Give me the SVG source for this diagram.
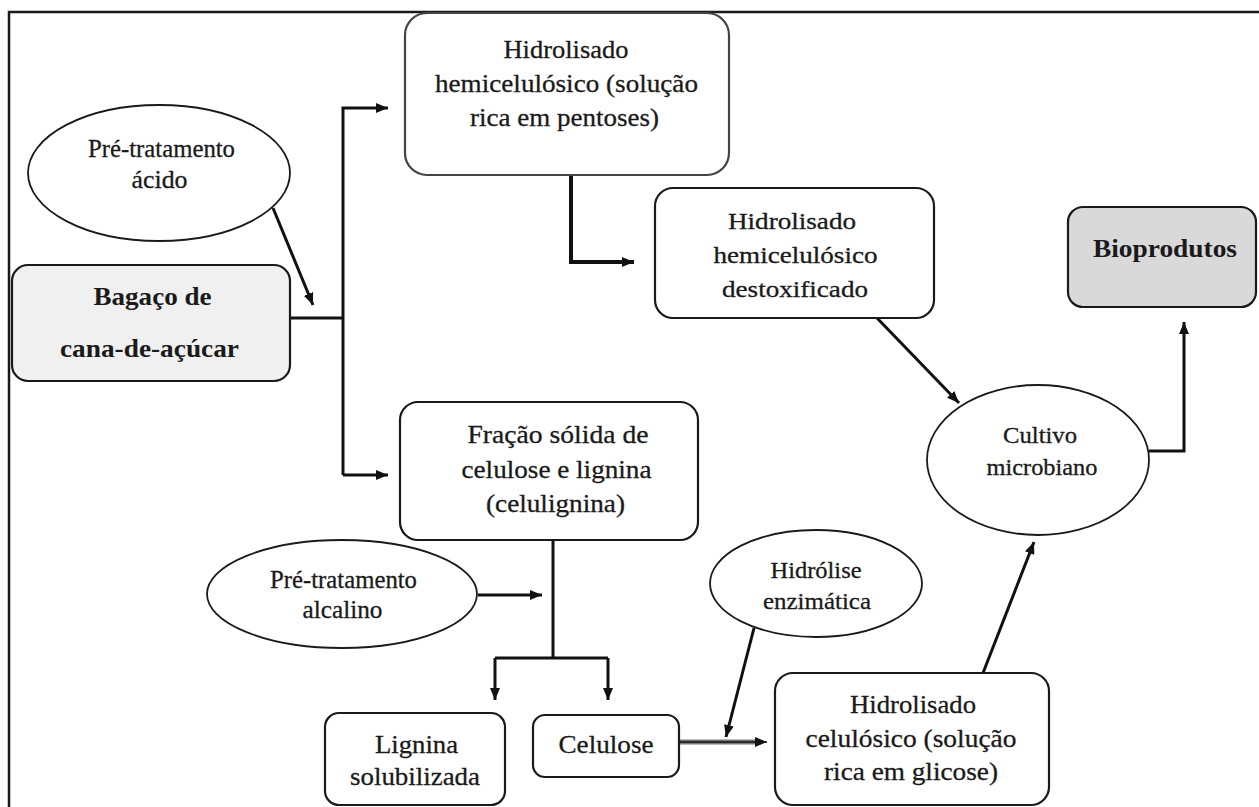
<svg xmlns="http://www.w3.org/2000/svg" width="1259" height="807" viewBox="0 0 1259 807">
<style>
.box{fill:#fff;stroke:#1a1a1a;stroke-width:2.2}
.ell{fill:#fff;stroke:#1a1a1a;stroke-width:1.8}
.t{font-family:"Liberation Serif","Times New Roman",serif;font-size:25px;fill:#1a1a1a;stroke:#1a1a1a;stroke-width:0.3;text-anchor:middle}
.tb{font-family:"Liberation Serif","Times New Roman",serif;font-size:26px;font-weight:bold;fill:#1a1a1a;text-anchor:middle}
.c{fill:none;stroke:#111;stroke-width:3}
</style>
<defs>
<marker id="ah" viewBox="0 0 12 10" refX="12" refY="5" markerWidth="12" markerHeight="10" markerUnits="userSpaceOnUse" orient="auto">
<path d="M0,0 L12,5 L0,10 z" fill="#111"/>
</marker>
</defs>
<rect x="0" y="0" width="1259" height="807" fill="#fff"/>
<path d="M9,812 L9,12 L1262,12" fill="none" stroke="#1a1a1a" stroke-width="2.5"/>

<g id="connectors">
<path class="c" d="M290,318 L343,318"/>
<path class="c" d="M343,475 L343,108 L388,108" marker-end="url(#ah)"/>
<path class="c" d="M343,475 L388,475" marker-end="url(#ah)"/>
<path class="c" d="M273,208 L313,305" marker-end="url(#ah)"/>
<path class="c" style="stroke-width:4" d="M571,175 L571,262 L634,262" marker-end="url(#ah)"/>
<path class="c" d="M877,318 L959,403" marker-end="url(#ah)"/>
<path class="c" d="M1149,451 L1184,451 L1184,322" marker-end="url(#ah)"/>
<path class="c" d="M553,540 L553,658"/>
<path class="c" d="M495,658 L608,658"/>
<path class="c" d="M495,658 L495,700" marker-end="url(#ah)"/>
<path class="c" d="M608,658 L608,700" marker-end="url(#ah)"/>
<path class="c" d="M478,595 L542,595" marker-end="url(#ah)"/>
<path fill="none" stroke="#777" stroke-width="5" d="M679,742 L758,742"/>
<path class="c" style="stroke-width:1.5" d="M679,742 L767,742" marker-end="url(#ah)"/>
<path class="c" d="M754,628 L726,737" marker-end="url(#ah)"/>
<path class="c" d="M983,673 L1034,542" marker-end="url(#ah)"/>
</g>

<g id="pretratamento-acido">
<ellipse class="ell" cx="159" cy="173" rx="131" ry="68"/>
<text class="t" x="161.5" y="157" textLength="147" lengthAdjust="spacingAndGlyphs">Pré-tratamento</text>
<text class="t" x="159.5" y="188" textLength="56" lengthAdjust="spacingAndGlyphs">ácido</text>
</g>

<g id="bagaco">
<rect class="box" x="12" y="265" width="278" height="116" rx="16" style="fill:#f0f0f0"/>
<text class="tb" x="152.5" y="305" textLength="118" lengthAdjust="spacingAndGlyphs">Bagaço de</text>
<text class="tb" x="149.5" y="357" textLength="179" lengthAdjust="spacingAndGlyphs">cana-de-açúcar</text>
</g>

<g id="hidrolisado-hemicelulosico">
<rect class="box" x="405" y="13" width="324" height="162" rx="22" style="stroke:#444"/>
<text class="t" x="566" y="58" textLength="125" lengthAdjust="spacingAndGlyphs">Hidrolisado</text>
<text class="t" x="566.5" y="92" textLength="263" lengthAdjust="spacingAndGlyphs">hemicelulósico (solução</text>
<text class="t" x="564.5" y="126" textLength="189" lengthAdjust="spacingAndGlyphs">rica em pentoses)</text>
</g>

<g id="hidrolisado-destoxificado">
<rect class="box" x="655" y="188" width="279" height="130" rx="18"/>
<text class="t" x="792" y="229" style="font-size:23px" textLength="128" lengthAdjust="spacingAndGlyphs">Hidrolisado</text>
<text class="t" x="795.5" y="263" style="font-size:23px" textLength="164" lengthAdjust="spacingAndGlyphs">hemicelulósico</text>
<text class="t" x="795" y="297" style="font-size:23px" textLength="146" lengthAdjust="spacingAndGlyphs">destoxificado</text>
</g>

<g id="bioprodutos">
<rect class="box" x="1068" y="207" width="188" height="100" rx="15" style="fill:#d9d9d9"/>
<text class="tb" x="1165" y="257" style="font-size:25px" textLength="144" lengthAdjust="spacingAndGlyphs">Bioprodutos</text>
</g>

<g id="cultivo">
<ellipse class="ell" cx="1038" cy="460" rx="111" ry="75"/>
<text class="t" x="1040" y="443" style="font-size:23px" textLength="74" lengthAdjust="spacingAndGlyphs">Cultivo</text>
<text class="t" x="1042" y="475" style="font-size:23px" textLength="111" lengthAdjust="spacingAndGlyphs">microbiano</text>
</g>

<g id="fracao-solida">
<rect class="box" x="400" y="402" width="298" height="138" rx="18"/>
<text class="t" x="558" y="443" textLength="181" lengthAdjust="spacingAndGlyphs">Fração sólida de</text>
<text class="t" x="556.5" y="478" textLength="190" lengthAdjust="spacingAndGlyphs">celulose e lignina</text>
<text class="t" x="555.5" y="512" textLength="139" lengthAdjust="spacingAndGlyphs">(celulignina)</text>
</g>

<g id="pretratamento-alcalino">
<ellipse class="ell" cx="342" cy="594" rx="135" ry="54"/>
<text class="t" x="343.5" y="588" textLength="147" lengthAdjust="spacingAndGlyphs">Pré-tratamento</text>
<text class="t" x="342.5" y="618" textLength="80" lengthAdjust="spacingAndGlyphs">alcalino</text>
</g>

<g id="lignina">
<rect class="box" x="325" y="713" width="180" height="92" rx="14"/>
<text class="t" x="416.5" y="753" style="font-size:26px" textLength="83" lengthAdjust="spacingAndGlyphs">Lignina</text>
<text class="t" x="415" y="785" style="font-size:26px" textLength="130" lengthAdjust="spacingAndGlyphs">solubilizada</text>
</g>

<g id="celulose">
<rect class="box" x="533" y="715" width="146" height="62" rx="12"/>
<text class="t" x="606" y="753" style="font-size:26px" textLength="95" lengthAdjust="spacingAndGlyphs">Celulose</text>
</g>

<g id="hidrolise-enzimatica">
<ellipse class="ell" cx="816" cy="583.5" rx="106" ry="53.5"/>
<text class="t" x="816" y="578" style="font-size:24px" textLength="91" lengthAdjust="spacingAndGlyphs">Hidrólise</text>
<text class="t" x="817" y="609" style="font-size:24px" textLength="108" lengthAdjust="spacingAndGlyphs">enzimática</text>
</g>

<g id="hidrolisado-celulosico">
<rect class="box" x="775" y="673" width="274" height="132" rx="18"/>
<text class="t" x="913" y="713" style="font-size:26px" textLength="126" lengthAdjust="spacingAndGlyphs">Hidrolisado</text>
<text class="t" x="911" y="747" style="font-size:26px" textLength="211" lengthAdjust="spacingAndGlyphs">celulósico (solução</text>
<text class="t" x="911" y="780" style="font-size:26px" textLength="174" lengthAdjust="spacingAndGlyphs">rica em glicose)</text>
</g>
</svg>
